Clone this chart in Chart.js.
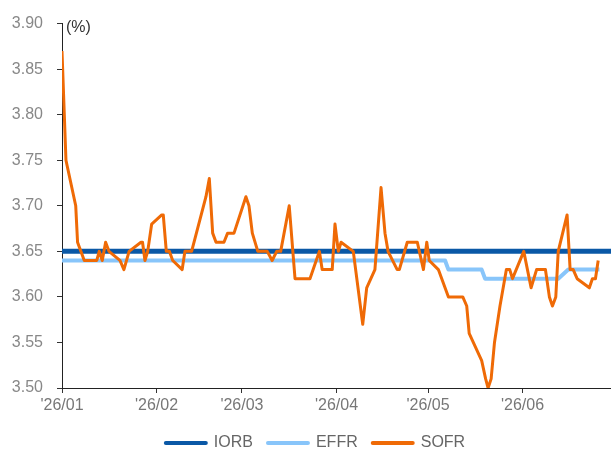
<!DOCTYPE html>
<html>
<head>
<meta charset="utf-8">
<script src="https://cdn.jsdelivr.net/npm/chart.js@4"></script>
<style>
  html, body { margin: 0; padding: 0; background: #fff; }
  #wrap { width: 611px; height: 456px; }
</style>
</head>
<body>
<div id="wrap"><canvas id="c" width="611" height="456"></canvas></div>
<script>
// Day offsets from 2026-01-01 (x) and values in % (y)
const monthTickDays = [0, 31, 59, 90, 120, 151];
const monthTickLabels = ["'26/01", "'26/02", "'26/03", "'26/04", "'26/05", "'26/06"];

const iorbDays = [0, 180];
const iorbValues = [3.65, 3.65];

const effrDays = [0, 125.6, 126.7, 137.6, 138.7, 162.7, 166.0, 176.2];
const effrValues = [3.64, 3.64, 3.63, 3.63, 3.62, 3.62, 3.63, 3.63];

const sofrDays = [0.0, 1.3, 4.5, 5.1, 7.3, 11.4, 12.2, 13.2, 14.3, 15.4, 19.0, 20.3, 22.0, 25.9, 26.4, 27.2, 28.1, 29.4, 32.7, 33.2,
  34.2, 35.2, 36.3, 39.4, 40.3, 42.5, 47.2, 48.3, 49.4, 50.5, 53.1, 54.3, 56.4, 60.3, 61.3, 62.4, 64.2, 67.3, 68.9, 70.4,
  71.7, 74.5, 76.4, 81.3, 84.4, 85.3, 88.6, 89.5, 90.6, 91.5, 95.5, 98.6, 99.9, 102.6, 104.6, 105.9, 106.9, 109.9, 110.6, 113.2,
  116.5, 118.5, 119.6, 120.4, 123.4, 126.7, 131.4, 132.7, 133.5, 137.6, 138.9, 139.7, 140.7, 141.8, 143.6, 145.7, 146.8, 147.7, 151.4, 153.8,
  155.6, 158.5, 159.8, 160.8, 161.9, 162.7, 165.6, 166.6, 167.6, 168.9, 172.9, 173.9, 174.9, 175.8];
const sofrValues = [3.87, 3.75, 3.70, 3.66, 3.64, 3.64, 3.65, 3.64, 3.66, 3.65, 3.64, 3.63, 3.65, 3.66, 3.66, 3.64, 3.65, 3.68, 3.69, 3.69,
  3.65, 3.65, 3.64, 3.63, 3.65, 3.65, 3.71, 3.73, 3.67, 3.66, 3.66, 3.67, 3.67, 3.71, 3.70, 3.67, 3.65, 3.65, 3.64, 3.65,
  3.65, 3.70, 3.62, 3.62, 3.65, 3.63, 3.63, 3.68, 3.65, 3.66, 3.65, 3.57, 3.61, 3.63, 3.72, 3.67, 3.65, 3.63, 3.63, 3.66,
  3.66, 3.63, 3.66, 3.64, 3.63, 3.60, 3.60, 3.59, 3.56, 3.53, 3.51, 3.50, 3.51, 3.55, 3.59, 3.63, 3.63, 3.62, 3.65, 3.61,
  3.63, 3.63, 3.60, 3.59, 3.60, 3.65, 3.69, 3.63, 3.63, 3.62, 3.61, 3.62, 3.62, 3.64];

const seriesNames = ['IORB', 'EFFR', 'SOFR'];
const seriesColors = ['#0a58a6', '#88c5fa', '#ef6a06'];

const toPoints = (xs, ys) => xs.map((x, i) => ({ x: x, y: ys[i] }));

const FONT = "'Liberation Sans', Arial, sans-serif";

const unitLabel = {
  id: 'unitLabel',
  afterLayout(chart) {
    // nudge the legend block slightly right, as in the reference
    if (chart.legend) { chart.legend.left += 20; }
  },
  afterDraw(chart) {
    const ctx = chart.ctx;
    const a = chart.chartArea;
    ctx.save();
    ctx.font = "16px " + FONT;
    ctx.fillStyle = '#333';
    ctx.textAlign = 'left';
    ctx.textBaseline = 'middle';
    ctx.fillText('(%)', a.left + 4, a.top + 4);
    ctx.restore();
  }
};

new Chart(document.getElementById('c'), {
  type: 'line',
  data: {
    datasets: [
      { label: seriesNames[0], data: toPoints(iorbDays, iorbValues), borderColor: seriesColors[0], backgroundColor: seriesColors[0], borderWidth: 5, order: 1 },
      { label: seriesNames[1], data: toPoints(effrDays, effrValues), borderColor: seriesColors[1], backgroundColor: seriesColors[1], borderWidth: 4, order: 2 },
      { label: seriesNames[2], data: toPoints(sofrDays, sofrValues), borderColor: seriesColors[2], backgroundColor: seriesColors[2], borderWidth: 3, order: 0 }
    ]
  },
  options: {
    responsive: false,
    animation: false,
    events: [],
    elements: {
      point: { radius: 0 },
      line: { tension: 0, borderJoinStyle: 'round', borderCapStyle: 'butt' }
    },
    layout: { padding: { top: 15, right: 0, bottom: -5, left: 0 } },
    scales: {
      x: {
        type: 'linear',
        min: 0,
        max: 180,
        afterBuildTicks(scale) { scale.ticks = monthTickDays.map(v => ({ value: v })); },
        afterFit(scale) { scale.height = 32; },
        ticks: {
          autoSkip: false, maxRotation: 0, padding: 3,
          color: '#777',
          font: { family: FONT, size: 16 },
          callback: (v, i) => monthTickLabels[i]
        },
        grid: { display: true, drawOnChartArea: false, drawTicks: true, tickLength: 5, color: '#333' },
        border: { display: true, color: '#222', width: 1 }
      },
      y: {
        min: 3.5,
        max: 3.9,
        afterFit(scale) { scale.width = 62; },
        ticks: {
          stepSize: 0.05, padding: 14,
          color: '#888',
          font: { family: FONT, size: 16 },
          callback: v => Number(v).toFixed(2)
        },
        grid: { display: true, drawOnChartArea: false, drawTicks: true, tickLength: 5, color: '#333' },
        border: { display: true, color: '#222', width: 1 }
      }
    },
    plugins: {
      tooltip: { enabled: false },
      legend: {
        position: 'bottom',
        align: 'center',
        labels: {
          font: { family: FONT, size: 16 },
          color: '#666',
          padding: 15,
          usePointStyle: true,
          pointStyleWidth: 40,
          generateLabels: () => seriesNames.map((n, i) => ({
            text: n,
            fillStyle: seriesColors[i],
            strokeStyle: seriesColors[i],
            lineWidth: 4,
            lineCap: 'round',
            pointStyle: 'line',
            hidden: false,
            datasetIndex: i,
            fontColor: '#666'
          }))
        }
      }
    }
  },
  plugins: [unitLabel]
});
</script>
</body>
</html>
